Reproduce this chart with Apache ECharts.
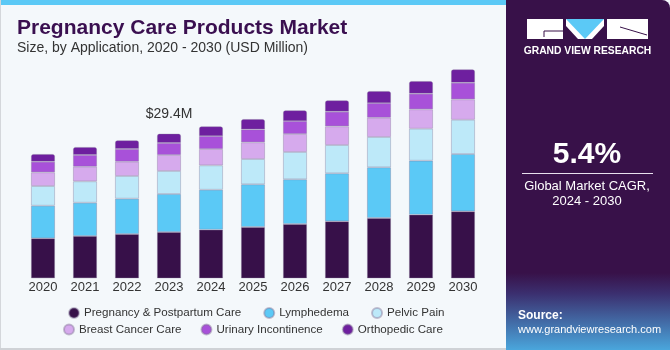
<!DOCTYPE html>
<html>
<head>
<meta charset="utf-8">
<script src="https://cdn.jsdelivr.net/npm/echarts@6/dist/echarts.min.js"></script>
<style>
  html, body { margin: 0; padding: 0; background: #ffffff; }
  #chart { width: 670px; height: 350px; }
</style>
</head>
<body>
<div id="chart"></div>
<script>
// categories (years)
const years = ["2020", "2021", "2022", "2023", "2024", "2025", "2026", "2027", "2028", "2029", "2030"];

// series values, USD Million
const pregnancyPostpartum = [8.13, 8.60, 9.01, 9.41, 9.88, 10.43, 11.04, 11.59, 12.26, 12.93, 13.62];
const lymphedema = [6.63, 6.77, 7.18, 7.73, 8.13, 8.68, 9.09, 9.76, 10.31, 10.98, 11.65];
const pelvicPain = [4.00, 4.35, 4.61, 4.68, 4.96, 5.14, 5.55, 5.75, 6.16, 6.51, 6.97];
const breastCancer = [2.79, 2.97, 2.91, 3.25, 3.31, 3.40, 3.66, 3.80, 3.92, 3.94, 4.15];
const urinaryIncontinence = [2.15, 2.38, 2.58, 2.44, 2.64, 2.64, 2.64, 2.97, 2.99, 3.17, 3.37];
const orthopedic = [1.57, 1.63, 1.77, 1.89, 1.97, 2.09, 2.18, 2.32, 2.44, 2.58, 2.72];

const seriesNames = [
  "Pregnancy & Postpartum Care", "Lymphedema", "Pelvic Pain",
  "Breast Cancer Care", "Urinary Incontinence", "Orthopedic Care"
];
const seriesData = [pregnancyPostpartum, lymphedema, pelvicPain, breastCancer, urinaryIncontinence, orthopedic];
const colors = ["#371049", "#5bc9f6", "#bde9f9", "#d6aaed", "#a851d9", "#6e1f9f"];

// the one value label shown on the chart
const labelYear = "2023";
const labelText = "$29.4M";

const font = "Liberation Sans, Arial, sans-serif";
const chart = echarts.init(document.getElementById("chart"), null, { renderer: "canvas" });

const series = seriesData.map((vals, i) => {
  const isTop = i === seriesData.length - 1;
  return {
    name: seriesNames[i],
    type: "bar",
    stack: "total",
    barWidth: 24,
    itemStyle: {
      color: colors[i],
      borderColor: "rgba(130,115,150,0.45)",
      borderWidth: 0.8,
      borderRadius: isTop ? [2, 2, 0, 0] : 0
    },
    data: vals.map((v, j) => {
      if (isTop && years[j] === labelYear) {
        return {
          value: v,
          label: {
            show: true,
            position: "top",
            distance: 13,
            formatter: labelText,
            fontFamily: font,
            fontSize: 14,
            color: "#333333"
          }
        };
      }
      return v;
    })
  };
});

const legendText = { fontFamily: font, fontSize: 11.6, color: "#333333" };

const option = {
  animation: false,
  backgroundColor: "#f4f8fb",
  grid: { left: 22, width: 462, top: 57, height: 221.3 },
  xAxis: {
    type: "category",
    data: years,
    axisLine: { show: false },
    axisTick: { show: false },
    axisLabel: { margin: 3, fontFamily: font, fontSize: 13, color: "#333333" }
  },
  yAxis: {
    type: "value",
    min: 0,
    max: 45,
    show: false,
    splitLine: { show: false }
  },
  legend: [
    {
      data: seriesNames.slice(0, 3),
      left: 68, top: 307, padding: 0,
      icon: "circle", itemWidth: 10, itemHeight: 10,
      itemGap: 22, itemTextGap: 6,
      textStyle: legendText
    },
    {
      data: seriesNames.slice(3),
      left: 63, top: 323.5, padding: 0,
      icon: "circle", itemWidth: 10, itemHeight: 10,
      itemGap: 19, itemTextGap: 6,
      textStyle: legendText
    }
  ],
  series: series,
  graphic: [
    // frame of the left panel
    { type: "rect", shape: { x: 0, y: 0, width: 506, height: 5 }, style: { fill: "#5bc9f6" }, silent: true },
    { type: "rect", shape: { x: 0, y: 0, width: 1, height: 350 }, style: { fill: "#d4d7db" }, silent: true },
    { type: "rect", shape: { x: 0, y: 348, width: 506, height: 2 }, style: { fill: "#cfd2d6" }, silent: true },
    // titles
    {
      type: "text", left: 17, top: 18,
      style: { text: "Pregnancy Care Products Market", font: "bold 21px " + font, fill: "#3a0f50" }
    },
    {
      type: "text", left: 17, top: 41,
      style: { text: "Size, by Application, 2020 - 2030 (USD Million)", font: "14px " + font, fill: "#333333" }
    },
    // right panel
    {
      type: "rect",
      shape: { x: 506, y: 0, width: 164, height: 350, r: [0, 8, 0, 0] },
      style: {
        fill: new echarts.graphic.LinearGradient(0, 0, 0, 1, [
          { offset: 0, color: "#381149" },
          { offset: 0.78, color: "#381149" },
          { offset: 0.84, color: "#3b3070" },
          { offset: 1, color: "#4aa6dc" }
        ])
      },
      silent: true
    },
    // logo
    { type: "rect", shape: { x: 527, y: 19, width: 36, height: 20 }, style: { fill: "#ffffff" }, silent: true },
    { type: "polyline", shape: { points: [[563, 31], [544, 31], [544, 37]] }, style: { stroke: "#381149", lineWidth: 1, fill: null }, silent: true },
    { type: "rect", shape: { x: 566, y: 19, width: 38, height: 20 }, style: { fill: "#ffffff" }, silent: true },
    { type: "polygon", shape: { points: [[566, 19], [604, 19], [585, 39]] }, style: { fill: "#5bc9f6" }, silent: true },
    { type: "polygon", shape: { points: [[566, 26], [566, 39], [578, 39]] }, style: { fill: "#381149" }, silent: true },
    { type: "polygon", shape: { points: [[604, 26], [604, 39], [592, 39]] }, style: { fill: "#381149" }, silent: true },
    { type: "rect", shape: { x: 607, y: 19, width: 41, height: 20 }, style: { fill: "#ffffff" }, silent: true },
    { type: "line", shape: { x1: 620, y1: 27, x2: 647, y2: 35 }, style: { stroke: "#381149", lineWidth: 1 }, silent: true },
    {
      type: "text", x: 587.5, y: 51,
      style: { text: "GRAND VIEW RESEARCH", font: "bold 10.3px " + font, fill: "#ffffff", align: "center", verticalAlign: "middle" }
    },
    {
      type: "text", x: 587, y: 155,
      style: { text: "5.4%", font: "bold 30px " + font, fill: "#ffffff", align: "center", verticalAlign: "middle" }
    },
    { type: "rect", shape: { x: 522, y: 173, width: 131, height: 1 }, style: { fill: "#e8e0ee" }, silent: true },
    {
      type: "text", x: 587, y: 186,
      style: { text: "Global Market CAGR,", font: "13px " + font, fill: "#ffffff", align: "center", verticalAlign: "middle" }
    },
    {
      type: "text", x: 587, y: 201,
      style: { text: "2024 - 2030", font: "13px " + font, fill: "#ffffff", align: "center", verticalAlign: "middle" }
    },
    {
      type: "text", x: 518, y: 316,
      style: { text: "Source:", font: "bold 12px " + font, fill: "#ffffff", verticalAlign: "middle" }
    },
    {
      type: "text", x: 518, y: 330,
      style: { text: "www.grandviewresearch.com", font: "11px " + font, fill: "#ffffff", verticalAlign: "middle" }
    }
  ]
};

chart.setOption(option);
</script>
</body>
</html>
